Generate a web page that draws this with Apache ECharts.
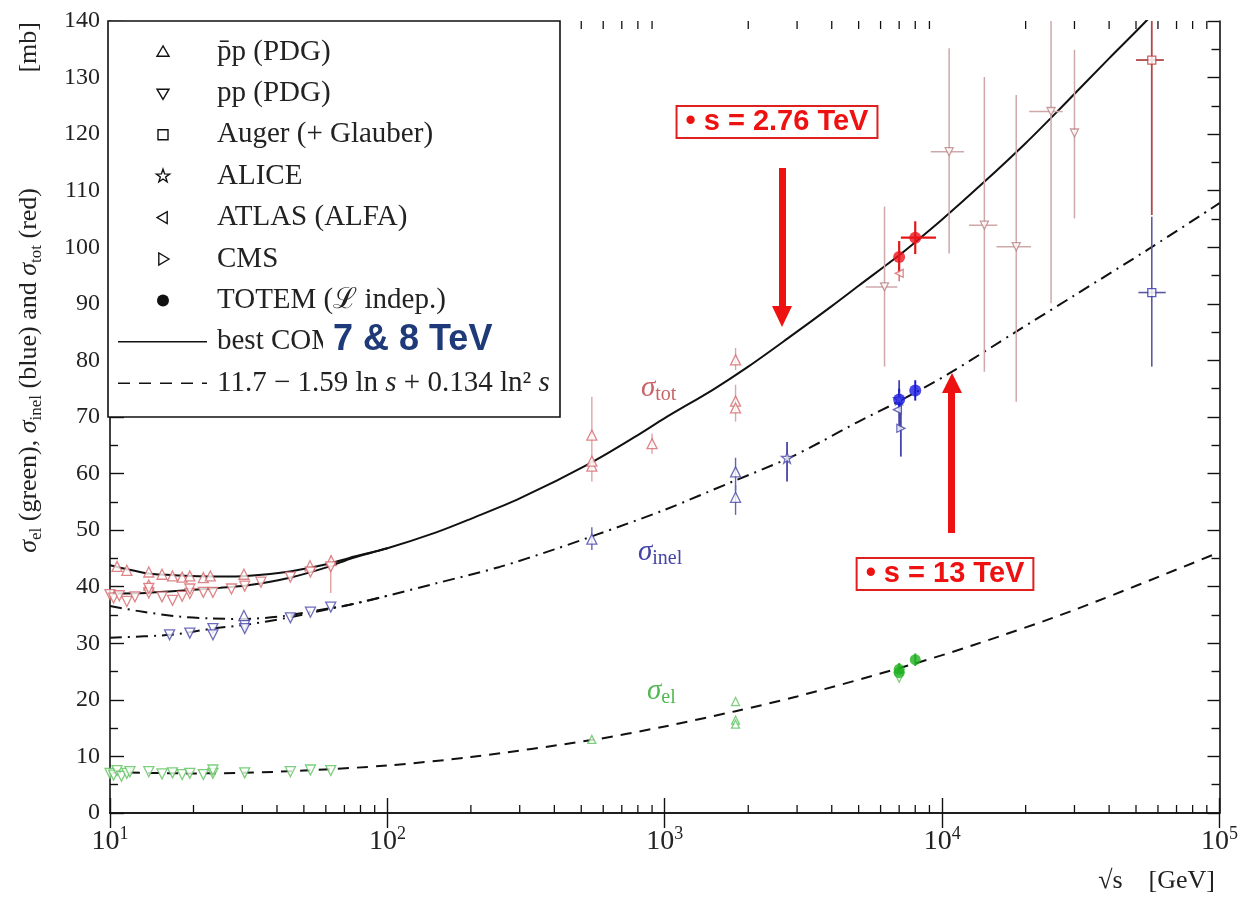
<!DOCTYPE html>
<html>
<head>
<meta charset="utf-8">
<script src="https://cdn.jsdelivr.net/npm/echarts@6/dist/echarts.min.js"></script>
<style>
html, body { margin: 0; padding: 0; background: #fff; }
#chart { width: 1241px; height: 897px; }
</style>
</head>
<body>
<div id="chart"></div>
<script>
// fitted curves: [sqrt(s) in GeV, mb]
var totPbarPCurve = [[10,43.8],[11.5,43.1],[13.5,42.4],[16,42.1],[19.4,41.9],[25,41.8],[31,41.9],[44.5,42.7],[62,44.1],[73,45.1],[100,46.8],[150,49.6],[200,52],[300,55.6],[546,62],[800,66.8],[1000,69.8],[1500,74.9],[2000,78.9],[2760,83.8],[4000,89.6],[5000,93.2],[7000,98.6],[8000,100.9],[10000,104.9],[14000,111.3],[20000,118.4],[26500,124.4],[40000,133.4],[54400,140],[60000,142.5]];
var totPpCurve = [[10,38.8],[13.5,38.9],[19.4,39.4],[25,39.8],[31,40.2],[44.5,41.6],[62,43.6],[73,44.9],[100,46.8]];
var inelPbarPCurve = [[10,36.6],[13,35.6],[18,34.7],[23,34.4],[30,34.3],[42,34.8],[62,36.2],[73,36.8],[100,38.4],[150,40.6],[254,43.5],[400,46.6],[568,49.2],[1000,53.6],[1760,58.6],[2760,62.6],[3620,65.5],[5000,69.2],[7000,72.8],[10600,77.7],[18500,85.1],[30000,91.5],[56000,99.8],[100000,107.8]];
var inelPpCurve = [[10,31.0],[16.5,31.5],[23.5,32.6],[31,33.3],[43.5,34.5],[62,36.1],[73,36.8],[100,38.4]];
var elCurve = [[10,7.2],[20,7.0],[30,7.1],[50,7.5],[100,8.4],[200,9.9],[546,12.9],[1000,15.3],[1800,18.0],[3000,20.6],[7000,25.6],[13000,29.7],[30000,35.9],[100000,46.1]];

// measurements: [x, y, yLow, yHigh, xLow, xHigh] (errors optional)
var totPbarP = [[10.6,43.6],[11.5,42.9],[13.8,42.6],[13.8,40.3],[15.4,42.2],[16.8,41.9],[18.2,41.7],[19.4,41.9],[21.7,41.6],[23.0,41.9],[30.4,42.2],[52.6,43.7],[62.7,44.6],[546,61.3,58.6,73.6],[546,62.2],[546,66.8],[900,65.3,63.5,67.1],[1800,80.1,78.3,82.2],[1800,72.8,69.2,75.7],[1800,71.6]];
var totPp = [[10.0,38.6],[10.3,38.0],[10.8,38.4],[11.5,37.4],[12.3,38.2],[13.8,38.9],[13.8,39.7],[15.4,38.2],[16.8,37.6],[18.2,38.3],[19.4,38.8],[19.4,39.6],[21.7,39.0],[23.5,39.0],[27.4,39.6],[30.6,40.1],[35,40.8],[44.7,41.7],[52.8,42.6],[62.5,43.5,38.9,45.5]];
var totCosmic = [[6200,93.0,78.9,107.2,5300,6900],[10600,116.9,98.9,135.2,9100,12000],[14200,103.9,78.0,130.1,12500,15800],[18500,100.1,72.7,126.9,15700,20900],[24700,124.0,90.1,140,20600,27200],[30000,120.2,105.1,134.9]];
var totAuger = [[57000,133.1,105.7,140,50000,63000]];
var totAtlas = [[7000,95.4,94.0,96.8]];
var totTotem = [[7000,98.3,95.5,101.1],[8000,101.7,98.8,104.6,7100,9500]];

var inelPp = [[16.4,31.5],[19.4,31.8],[23.5,32.6,31.2,33.6],[23.5,31.5],[30.6,33.2],[30.6,32.6],[44.7,34.5],[52.8,35.5],[62.5,36.4]];
var inelPbarP = [[30.4,34.9],[546,48.4,46.5,50.5],[1800,60.3,57.0,62.8],[1800,55.8,52.7,58.0]];
var inelAlice = [[2760,62.8,58.6,65.6],[7000,73.2,67.7,76.5]];
var inelAtlas = [[6900,71.3]];
var inelCms = [[7100,68.0,63.0,72.5]];
var inelTotem = [[7000,73.1,71.2,75.0],[8000,74.7,72.9,76.5]];
var inelAuger = [[57000,92.0,78.9,105.4,51000,64000]];

var elPp = [[10.0,7.0],[10.3,6.7],[10.6,7.5],[11.0,6.5],[11.5,7.0],[11.8,7.3],[13.8,7.3],[15.4,6.9],[16.8,7.1],[18.2,6.8],[19.4,7.0],[21.7,6.8],[23.5,7.0],[23.5,7.6],[30.6,7.1],[44.7,7.3],[52.8,7.6],[62.5,7.5],[7000,24.0]];
var elPbarP = [[546,13.0],[1800,19.7],[1800,16.4],[1800,15.7]];
var elTotem = [[7000,25.4,24.3,26.5],[7000,24.8],[8000,27.1,26.0,28.2]];

var xMinorTicks = [20,30,40,50,60,70,80,90,200,300,400,500,600,700,800,900,2000,3000,4000,5000,6000,7000,8000,9000,20000,30000,40000,50000,60000,70000,80000,90000];

var legendRows = ['p\u0304p (PDG)', 'pp (PDG)', 'Auger (+ Glauber)', 'ALICE', 'ATLAS (ALFA)', 'CMS', 'TOTEM (\u2112 indep.)'];

var SERIF = '"Liberation Serif", "DejaVu Serif", serif';
var SANS = '"Liberation Sans", Arial, sans-serif';
var STAR = 'path://M50,0 L61,35 L98,35 L68,57 L79,91 L50,70 L21,91 L32,57 L2,35 L39,35 Z';

function full(p) {
  return [p[0], p[1], p.length > 2 ? p[2] : p[1], p.length > 3 ? p[3] : p[1], p.length > 4 ? p[4] : p[0], p.length > 5 ? p[5] : p[0]];
}

function errBars(data, color, width) {
  return {
    type: 'custom', silent: true, z: 2, clip: true,
    data: data.filter(function (p) { return p.length > 2; }).map(full),
    encode: { x: 0, y: 1 },
    renderItem: function (params, api) {
      var lo = api.coord([api.value(0), api.value(2)]);
      var hi = api.coord([api.value(0), api.value(3)]);
      var xl = api.coord([api.value(4), api.value(1)]);
      var xh = api.coord([api.value(5), api.value(1)]);
      var st = { stroke: color, lineWidth: width || 1.4 };
      return {
        type: 'group', children: [
          { type: 'line', shape: { x1: lo[0], y1: lo[1], x2: hi[0], y2: hi[1] }, style: st },
          { type: 'line', shape: { x1: xl[0], y1: xl[1], x2: xh[0], y2: xh[1] }, style: st }
        ]
      };
    }
  };
}

function pts(data, symbol, color, size, rotate, filled) {
  return {
    type: 'scatter', silent: true, z: 3,
    data: data.map(function (p) { return [p[0], p[1]]; }),
    symbol: symbol, symbolSize: size, symbolRotate: rotate || 0,
    itemStyle: filled ? { color: color } : { color: '#fff', borderColor: color, borderWidth: 1.3 }
  };
}

function curve(data, dash) {
  return {
    type: 'line', data: data, smooth: 0.3, showSymbol: false, silent: true, z: 1, clip: true,
    lineStyle: { color: '#111', width: 2, type: dash }
  };
}

var cTot = '#d4686c', cTotErr = '#e2a2a4', cCos = '#b98283', cCosErr = '#cfa9aa';
var cInel = '#4646aa', cInelErr = '#6464b4', cEl = '#5cc25c';

var series = [
  curve(totPbarPCurve, 'solid'),
  curve(totPpCurve, 'solid'),
  curve(inelPbarPCurve, [12, 6, 2, 6]),
  curve(inelPpCurve, [12, 6, 2, 6]),
  curve(elCurve, [11, 8]),

  errBars(totPbarP, cTotErr), errBars(totPp, cTotErr),
  errBars(totCosmic, cCosErr, 1.5), errBars(totAuger, '#b04848', 1.8),
  errBars(totAtlas, cTot), errBars(totTotem, '#e01818', 2.2),
  errBars(inelPbarP, cInelErr), errBars(inelAlice, cInel, 1.8), errBars(inelCms, cInel, 1.8),
  errBars(inelTotem, '#1a1ad8', 2), errBars(inelAuger, '#5a5aa0', 1.6),
  errBars(elTotem, '#22b022', 2),

  pts(totPbarP, 'triangle', cTot, 10, 0),
  pts(totPp, 'triangle', cTot, 10, 180),
  pts(totCosmic, 'triangle', cCos, 8, 180),
  pts(totAuger, 'rect', '#c03838', 8),
  pts(totAtlas, 'triangle', cTot, 8, 90),
  pts(totTotem, 'circle', '#e8141c', 12, 0, true),

  pts(inelPp, 'triangle', cInel, 10, 180),
  pts(inelPbarP, 'triangle', cInel, 10, 0),
  pts(inelAlice, STAR, cInel, 11),
  pts(inelAtlas, 'triangle', cInel, 8, 90),
  pts(inelCms, 'triangle', cInel, 8, -90),
  pts(inelTotem, 'circle', '#1a1ae0', 12, 0, true),
  pts(inelAuger, 'rect', '#3030b0', 8),

  pts(elPp, 'triangle', cEl, 10, 180),
  pts(elPbarP, 'triangle', cEl, 8, 0),
  pts(elTotem, 'circle', '#1fb01f', 11, 0, true),

  {
    type: 'custom', silent: true, clip: false, z: 5,
    data: xMinorTicks.map(function (v) { return [v, 0]; }),
    encode: { x: 0, y: 1 },
    renderItem: function (params, api) {
      var b = api.coord([api.value(0), 0]);
      var t = api.coord([api.value(0), 140]);
      var st = { stroke: '#111', lineWidth: 1.3 };
      return {
        type: 'group', children: [
          { type: 'line', shape: { x1: b[0], y1: b[1], x2: b[0], y2: b[1] - 8 }, style: st },
          { type: 'line', shape: { x1: t[0], y1: t[1], x2: t[0], y2: t[1] + 8 }, style: st }
        ]
      };
    }
  }
];

// legend box drawn by hand
var graphics = [];
var lgX = 163, rowY0 = 52, rowStep = 41.4;
graphics.push({ type: 'rect', z: 10, shape: { x: 108, y: 21, width: 452, height: 396 }, style: { fill: '#fff', stroke: '#111', lineWidth: 1.6 } });
function tri(cx, cy, dir) {
  var r = 6;
  if (dir === 'up') return [[cx, cy - r], [cx - r, cy + r * 0.7], [cx + r, cy + r * 0.7]];
  if (dir === 'down') return [[cx, cy + r], [cx - r, cy - r * 0.7], [cx + r, cy - r * 0.7]];
  if (dir === 'left') return [[cx - r, cy], [cx + r * 0.7, cy - r], [cx + r * 0.7, cy + r]];
  return [[cx + r, cy], [cx - r * 0.7, cy - r], [cx - r * 0.7, cy + r]];
}
var lgStroke = { fill: '#fff', stroke: '#111', lineWidth: 1.4 };
var starPts = [];
for (var k = 0; k < 10; k++) {
  var ang = -Math.PI / 2 + k * Math.PI / 5, rr = k % 2 ? 2.8 : 7;
  starPts.push([lgX + rr * Math.cos(ang), rowY0 + 3 * rowStep + rr * Math.sin(ang)]);
}
graphics.push(
  { type: 'polygon', z: 11, shape: { points: tri(lgX, rowY0, 'up') }, style: lgStroke },
  { type: 'polygon', z: 11, shape: { points: tri(lgX, rowY0 + rowStep, 'down') }, style: lgStroke },
  { type: 'rect', z: 11, shape: { x: lgX - 5, y: rowY0 + 2 * rowStep - 5, width: 10, height: 10 }, style: lgStroke },
  { type: 'polygon', z: 11, shape: { points: starPts }, style: lgStroke },
  { type: 'polygon', z: 11, shape: { points: tri(lgX, rowY0 + 4 * rowStep, 'left') }, style: lgStroke },
  { type: 'polygon', z: 11, shape: { points: tri(lgX, rowY0 + 5 * rowStep, 'right') }, style: lgStroke },
  { type: 'circle', z: 11, shape: { cx: lgX, cy: rowY0 + 6 * rowStep, r: 6 }, style: { fill: '#111' } },
  { type: 'line', z: 11, shape: { x1: 118, y1: rowY0 + 7 * rowStep, x2: 207, y2: rowY0 + 7 * rowStep }, style: { stroke: '#111', lineWidth: 1.6 } },
  { type: 'line', z: 11, shape: { x1: 118, y1: rowY0 + 8 * rowStep, x2: 207, y2: rowY0 + 8 * rowStep }, style: { stroke: '#111', lineWidth: 1.6, lineDash: [12, 9] } }
);
legendRows.forEach(function (t, i) {
  graphics.push({ type: 'text', z: 11, x: 217, y: rowY0 + i * rowStep, style: { text: t, font: '29px ' + SERIF, fill: '#222', verticalAlign: 'middle' } });
});
graphics.push(
  { type: 'text', z: 11, x: 217, y: rowY0 + 7 * rowStep, style: { text: 'best COMPETE', font: '29px ' + SERIF, fill: '#222', verticalAlign: 'middle' } },
  { type: 'text', z: 12, x: 323, y: rowY0 + 7 * rowStep - 2, style: { text: '7 & 8 TeV', font: 'bold 36px ' + SANS, fill: '#1e3a78', verticalAlign: 'middle', backgroundColor: '#fff', padding: [2, 4, 0, 10] } },
  { type: 'text', z: 11, x: 217, y: rowY0 + 8 * rowStep, style: {
      text: '11.7 \u2212 1.59 ln {i|s} + 0.134 ln\u00b2 {i|s}', font: '29px ' + SERIF, fill: '#222', verticalAlign: 'middle',
      rich: { i: { fontFamily: SERIF, fontSize: 29, fontStyle: 'italic', fill: '#222' } } } }
);

// annotations
graphics.push(
  { type: 'text', z: 12, x: 777, y: 122, style: { text: '\u2022 s = 2.76 TeV', font: 'bold 29px ' + SANS, fill: '#ee1111', align: 'center', verticalAlign: 'middle', backgroundColor: '#fff', borderColor: '#e02020', borderWidth: 2, padding: [1, 8, 0, 8] } },
  { type: 'text', z: 12, x: 945, y: 574, style: { text: '\u2022 s = 13 TeV', font: 'bold 29px ' + SANS, fill: '#ee1111', align: 'center', verticalAlign: 'middle', backgroundColor: '#fff', borderColor: '#e02020', borderWidth: 2, padding: [1, 8, 0, 8] } },
  { type: 'polygon', z: 12, shape: { points: [[779, 168], [786, 168], [786, 306], [792, 306], [782, 327], [772, 306], [779, 306]] }, style: { fill: '#ee1111' } },
  { type: 'polygon', z: 12, shape: { points: [[948, 533], [955, 533], [955, 393], [962, 393], [952, 373], [942, 393], [948, 393]] }, style: { fill: '#ee1111' } }
);

// curve labels
var subRich = function (c) {
  return {
    g: { fontFamily: SERIF, fontSize: 29, fontStyle: 'italic', fill: c, lineHeight: 34, verticalAlign: 'middle' },
    s: { fontFamily: SERIF, fontSize: 20, fill: c, verticalAlign: 'bottom' }
  };
};
graphics.push(
  { type: 'text', z: 6, x: 641, y: 388, style: { text: '{g|\u03c3}{s|tot}', rich: subRich('#c86468'), verticalAlign: 'middle' } },
  { type: 'text', z: 6, x: 638, y: 552, style: { text: '{g|\u03c3}{s|inel}', rich: subRich('#4444a8'), verticalAlign: 'middle' } },
  { type: 'text', z: 6, x: 647, y: 691, style: { text: '{g|\u03c3}{s|el}', rich: subRich('#52b852'), verticalAlign: 'middle' } }
);

// axis titles
var titleRich = {
  n: { fontFamily: SERIF, fontSize: 26, fill: '#222', lineHeight: 32, verticalAlign: 'middle' },
  g: { fontFamily: SERIF, fontSize: 26, fontStyle: 'italic', fill: '#222', lineHeight: 32, verticalAlign: 'middle' },
  s: { fontFamily: SERIF, fontSize: 17, fill: '#222', verticalAlign: 'bottom' }
};
graphics.push(
  { type: 'text', z: 6, x: 29, y: 188, rotation: Math.PI / 2, style: {
      text: '{g|\u03c3}{s|el}{n| (green), }{g|\u03c3}{s|inel}{n| (blue) and }{g|\u03c3}{s|tot}{n| (red)}',
      rich: titleRich, align: 'right', verticalAlign: 'middle' } },
  { type: 'text', z: 6, x: 29, y: 22, rotation: Math.PI / 2, style: {
      text: '{n|[mb]}', rich: titleRich, align: 'right', verticalAlign: 'middle' } },
  { type: 'text', z: 6, x: 1215, y: 881, style: { text: '\u221as    [GeV]', font: '26px ' + SERIF, fill: '#222', align: 'right', verticalAlign: 'middle' } }
);

var tickStyle = { color: '#111', width: 1.4 };
var option = {
  animation: false,
  backgroundColor: '#fff',
  grid: { left: 110, right: 21, top: 21, bottom: 84 },
  xAxis: [
    {
      type: 'log', logBase: 10, min: 10, max: 100000, position: 'bottom',
      axisLine: { show: true, lineStyle: { color: '#111', width: 1.6 } },
      axisTick: { show: true, inside: true, length: 15, lineStyle: tickStyle },
      splitLine: { show: false },
      axisLabel: {
        margin: 12,
        formatter: function (v) { return '{b|10}{e|' + Math.round(Math.log10(v)) + '}'; },
        rich: {
          b: { fontFamily: SERIF, fontSize: 28, color: '#222', lineHeight: 34, verticalAlign: 'middle' },
          e: { fontFamily: SERIF, fontSize: 18, color: '#222', verticalAlign: 'top' }
        }
      }
    },
    {
      type: 'log', logBase: 10, min: 10, max: 100000, position: 'top',
      axisLine: { show: true, lineStyle: { color: '#111', width: 1.6 } },
      axisTick: { show: true, inside: true, length: 15, lineStyle: tickStyle },
      axisLabel: { show: false }, splitLine: { show: false }
    }
  ],
  yAxis: [
    {
      type: 'value', min: 0, max: 140, interval: 10, position: 'left',
      axisLine: { show: true, lineStyle: { color: '#111', width: 1.6 } },
      axisTick: { show: true, inside: true, length: 14, lineStyle: tickStyle },
      minorTick: { show: true, splitNumber: 2, length: 8, lineStyle: tickStyle },
      splitLine: { show: false },
      axisLabel: { margin: 10, fontFamily: SERIF, fontSize: 24, color: '#222' }
    },
    {
      type: 'value', min: 0, max: 140, interval: 10, position: 'right',
      axisLine: { show: true, lineStyle: { color: '#111', width: 1.6 } },
      axisTick: { show: true, inside: true, length: 12, lineStyle: tickStyle },
      minorTick: { show: true, splitNumber: 2, length: 8, lineStyle: tickStyle },
      splitLine: { show: false }, axisLabel: { show: false }
    }
  ],
  series: series,
  graphic: graphics
};

var myChart = echarts.init(document.getElementById('chart'));
myChart.setOption(option, true);
</script>
</body>
</html>
